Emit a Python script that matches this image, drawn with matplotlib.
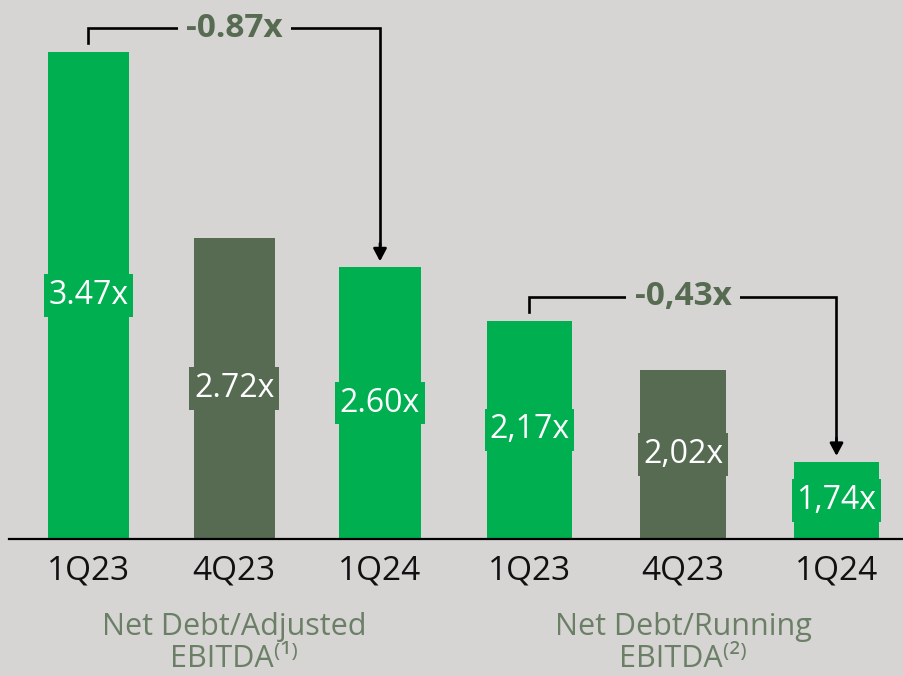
import matplotlib
matplotlib.use("Agg")
import matplotlib.pyplot as plt
import matplotlib.transforms as mtransforms
from matplotlib.lines import Line2D

# ── data ──────────────────────────────────────
periods = ["1Q23", "4Q23", "1Q24"]
adjusted_vals = [3.47, 2.72, 2.60]
adjusted_labels = ["3.47x", "2.72x", "2.60x"]
running_vals = [2.17, 2.02, 1.74]
running_labels = ["2,17x", "2,02x", "1,74x"]
adjusted_delta = "-0.87x"
running_delta = "-0,43x"
group_titles = ["Net Debt/Adjusted\nEBITDA\u207d\u00b9\u207e",
                "Net Debt/Running\nEBITDA\u207d\u00b2\u207e"]

# ── style ─────────────────────────────────────
BG = "#D6D5D3"
GREEN = "#00AF50"
DARK = "#566B51"
TITLE_C = "#6B7F66"
bar_colors = [GREEN, DARK, GREEN]
FONT = ["Open Sans", "DejaVu Sans"]
plt.rcParams["font.family"] = FONT

W, H = 904, 676
fig = plt.figure(figsize=(W / 100, H / 100), dpi=100, facecolor=BG)

base_px = 539  # baseline (pixels from top)
ax_h = base_px / H
ax_b = 1 - ax_h

# two panels with their own value scales (baseline at 1.5)
axL = fig.add_axes([0, ax_b, 452 / W, ax_h])
axR = fig.add_axes([452 / W, ax_b, 452 / W, ax_h])

panels = [
    (axL, adjusted_vals, adjusted_labels, adjusted_delta, 247.0, 1.50, (88.5, 145.75), 0.556),
    (axR, running_vals, running_labels, running_delta, 328.0, 1.505, (529.5 - 452, 153.5), 0.554),
]

for ax, vals, labels, delta, ppu, base, (x0px, step), width in panels:
    ax.set_facecolor("none")
    ax.set_xlim(-x0px / step, (452 - x0px) / step)
    ax.set_ylim(base, base + base_px / ppu)
    xs = list(range(len(vals)))
    ax.bar(xs, [v - base for v in vals], bottom=base, width=width,
           color=bar_colors, zorder=2)
    for x, v, lab, c in zip(xs, vals, labels, bar_colors):
        ax.text(x, (v + base) / 2, lab, ha="center", va="center",
                fontsize=23, color="white", zorder=3,
                bbox=dict(boxstyle="square,pad=0.15", fc=c, ec="none"))
    ax.set_xticks(xs)
    ax.set_xticklabels(periods, fontsize=24, color="#111111")
    ax.tick_params(axis="x", length=0, pad=11)
    ax.set_yticks([])
    for s in ax.spines.values():
        s.set_visible(False)

    # bracket with delta
    px = 1.0 / ppu
    y_br = vals[0] + 24 * px
    ax.plot([0, 0, 2, 2], [vals[0] + 9 * px, y_br, y_br, vals[2] + 22 * px],
            color="black", lw=1.9, solid_joinstyle="miter", zorder=1)
    ax.annotate("", xy=(2, vals[2] + 6 * px), xytext=(2, vals[2] + 24 * px),
                arrowprops=dict(arrowstyle="-|>,head_width=0.4,head_length=0.75",
                                color="black", lw=1.9, shrinkA=0, shrinkB=0))
    ax.text(1, y_br, delta, ha="center", va="center", fontsize=24,
            fontweight="bold", color=DARK, zorder=3,
            bbox=dict(boxstyle="square,pad=0.25", fc=BG, ec="none"))

    # group title under ticks
    tr = mtransforms.blended_transform_factory(ax.transData, fig.transFigure)
    title = group_titles[0] if ax is axL else group_titles[1]
    ax.text(1, 1 - 643 / H, title, transform=tr, ha="center", va="center",
            fontsize=22, color=TITLE_C, linespacing=1.12)

# baseline across the chart
fig.add_artist(Line2D([9 / W, 1], [ax_b, ax_b], transform=fig.transFigure,
                      color="black", lw=1.6))

fig.savefig("out.png", dpi=100, facecolor=BG)
